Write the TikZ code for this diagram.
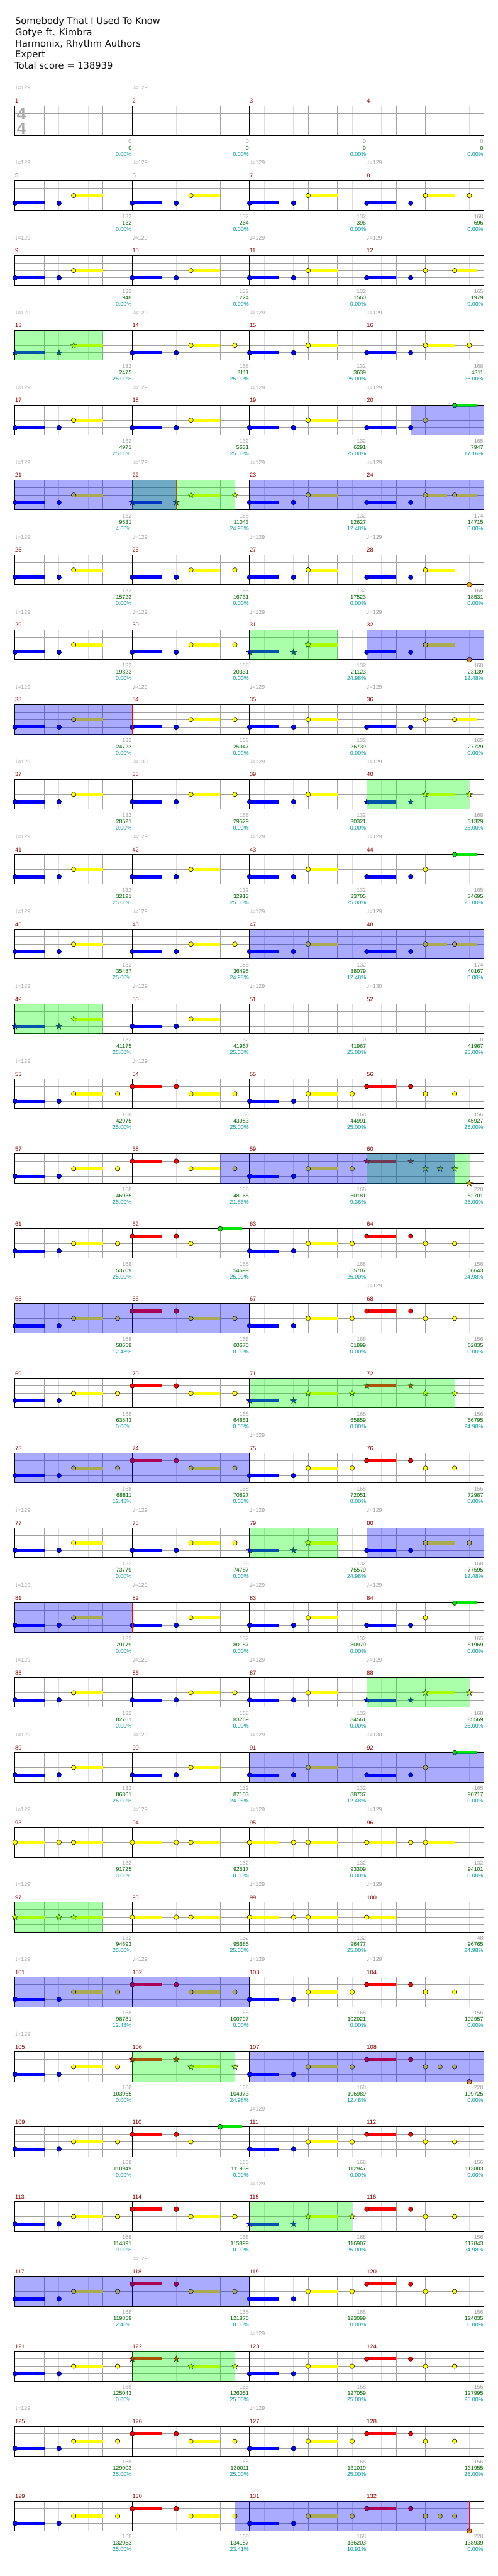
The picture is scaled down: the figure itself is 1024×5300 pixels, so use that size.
\documentclass[tikz,border=0pt]{standalone}
\usepackage{fontspec}
\setmainfont{DejaVu Sans}
\newfontfamily\chartfont{Liberation Sans}
\usetikzlibrary{shapes.geometric}
\definecolor{gridgray}{HTML}{A0A0A0}
\definecolor{gridlight}{HTML}{DCDCDC}
\definecolor{barnum}{HTML}{8B0000}
\definecolor{scoregreen}{HTML}{006400}
\definecolor{pctteal}{HTML}{009999}
\definecolor{odgreen}{HTML}{00FF00}
\definecolor{lane0}{HTML}{00E600}
\definecolor{lane1}{HTML}{FF0000}
\definecolor{lane2}{HTML}{FFFF00}
\definecolor{lane3}{HTML}{0000FF}
\definecolor{lane4}{HTML}{FFA500}

\tikzset{
  eighthline/.style={gridlight, line width=1},
  beatline/.style={gridgray, line width=1},
  barline/.style={black, line width=1},
  laneline/.style={gridgray, line width=1.2},
  staffbox/.style={black, line width=1.3},
  sustain/.style={line width=6.5},
  gem/.style={draw=black, line width=0.7},
  stargem/.style={star, star points=5, star point ratio=2.4, minimum size=13, inner sep=0, draw=black, line width=0.6},
  odzone/.style={fill=odgreen, fill opacity=0.333},
  solozone/.style={fill=blue, fill opacity=0.333},
  header/.style={font={\fontsize{19}{23}\selectfont}, text=black!94, anchor=base west, inner sep=0},
  timesig/.style={font={\chartfont\bfseries\fontsize{34}{34}\selectfont}, text=black!33, inner sep=0},
  tempo/.style={font={\chartfont\fontsize{11.5}{13}\selectfont}, text=gridgray, anchor=base west, inner sep=0},
  barno/.style={font={\chartfont\fontsize{12}{13}\selectfont}, text=barnum, anchor=base west, inner sep=0},
  ptsgray/.style={font={\chartfont\fontsize{11.5}{13}\selectfont}, text=gridgray, anchor=base east, inner sep=0},
  ptsgreen/.style={ptsgray, text=scoregreen},
  ptsteal/.style={ptsgray, text=pctteal}
}

% eighth-note width and measure origin
\newcommand{\ew}{30.156}
\newcommand{\mpos}[1]{%
  \pgfmathtruncatemacro\mrow{(#1-1)/4}%
  \pgfmathtruncatemacro\mcol{#1-1-4*\mrow}%
  \pgfmathsetmacro\mx{31+241.25*\mcol}%
  \pgfmathsetmacro\my{218+154*\mrow}}
\newcommand{\zone}[4]{\mpos{#2}\fill[#1] ({\mx+#3*\ew},\my) rectangle ({\mx+#4*\ew},{\my+61});}

% note patterns: lane/start/end (eighths)
\def\patZ{}
\def\patA{3/0/2,3/3/3,2/4/6}
\def\patC{3/0/2,3/3/3,2/4/6,2/7/7}
\def\patD{1/0/2,1/3/3,2/4/6,2/7/7}
\def\patE{1/0/2,1/3/3,2/4/4,2/6/6}
\def\patF{3/0/2,3/3/3,2/4/4,2/6/7.5}
\def\patG{3/0/2,3/3/3,2/4/4,0/6/7.5}
\def\patH{3/0/2,3/3/3,2/4/5.5,2/6/7.5}
\def\patI{3/0/2,3/3/3,2/4/6,4/7/7}
\def\patK{1/0/2,1/3/3,2/4/4,2/5/5,2/6/6,4/7/7}
\def\patL{1/0/2,1/3/3,2/4/4,0/6/7.5}
\def\patM{2/0/2,2/3/3,2/4/6}
\def\patN{2/0/2}

\begin{document}
\begin{tikzpicture}[x=1pt,y=-1pt]
\useasboundingbox (0,0) rectangle (1024,5300);
\fill[white] (0,0) rectangle (1024,5300);

% header
\node[header] (song) at (31,50) {Somebody That I Used To Know};
\node[header] (artist) at (31,73) {Gotye ft. Kimbra};
\node[header] (charter) at (31,96) {Harmonix, Rhythm Authors};
\node[header] (diff) at (31,119) {Expert};
\node[header] (total) at (30,142) {Total score = 138939};

% staves
\foreach \r in {0,...,32} {
  \pgfmathsetmacro\ty{218+154*\r}
  \foreach \k in {1,3,...,31} \draw[eighthline] ({31+\k*\ew},\ty) -- ++(0,61);
  \foreach \k in {2,4,...,30} \draw[beatline] ({31+\k*\ew},\ty) -- ++(0,61);
  \foreach \l in {1,2,3} \draw[laneline] (31,{\ty+15.25*\l}) -- (996,{\ty+15.25*\l});
  \foreach \k in {8,16,24} \draw[barline] ({31+\k*\ew},\ty) -- ++(0,61);
  \draw[staffbox] (31,\ty) rectangle (996,{\ty+61});
}
\node[timesig] (tsnum) at (44,234.5) {4};
\node[timesig] (tsden) at (44,264) {4};

% notes
\foreach \pat/\st [count=\m] in {
  Z/0,Z/0,Z/0,Z/0, A/0,A/0,A/0,C/0, A/0,A/0,A/0,F/0, A/1,C/0,A/0,C/0,
  A/0,A/0,A/0,G/0, A/0,C/1,A/0,H/0, A/0,C/0,A/0,I/0, A/0,C/0,A/1,I/0,
  A/0,C/0,A/0,F/0, A/0,C/0,A/0,C/1, A/0,A/0,A/0,G/0, A/0,C/0,A/0,H/0,
  A/1,A/0,Z/0,Z/0, C/0,D/0,C/0,E/0, C/0,D/0,C/0,K/1, C/0,L/0,C/0,E/0,
  C/0,D/0,C/0,E/0, C/0,D/0,C/1,E/1, C/0,D/0,C/0,E/0, A/0,C/0,A/1,C/0,
  A/0,A/0,A/0,G/0, A/0,C/0,A/0,C/1, A/0,A/0,A/0,G/0, M/0,M/0,M/0,M/0,
  M/1,M/0,M/0,N/0, C/0,D/0,C/0,E/0, C/0,D/1,C/0,K/0, C/0,L/0,C/0,E/0,
  C/0,D/0,C/1,E/0, C/0,D/0,C/0,E/0, C/0,D/1,C/0,E/0, C/0,D/0,C/0,E/0,
  C/0,D/0,C/0,K/0} {
  \mpos{\m}
  \expandafter\let\expandafter\notes\csname pat\pat\endcsname
  \ifx\notes\empty\else
  \foreach \lane/\from/\upto in \notes {
    \pgfmathsetmacro\ny{\my+15.25*\lane}
    \pgfmathtruncatemacro\hastail{\upto>\from}
    \ifnum\hastail=1 \draw[sustain, color=lane\lane] ({\mx+\from*\ew},\ny) -- ({\mx+\upto*\ew},\ny);\fi
    \ifnum\st=1
      \node[stargem, fill=lane\lane] (gem\m-\lane-\from) at ({\mx+\from*\ew},\ny) {};
    \else
      \draw[gem, fill=lane\lane] ({\mx+\from*\ew},\ny) circle (4.8);
    \fi
  }\fi
}

% solo ends and starts
\foreach \m/\p in {21/11,23/16,33/8,47/16,58/22,65/16,73/16,81/8,91/16,101/16,107/16,117/16,130/23} {
  \mpos{\m}\draw[red, line width=0.8] ({\mx+\p*\ew},\my) -- ++(0,61);
}
\foreach \m in {64,72,100,116} {
  \mpos{\m}\draw[blue!50!black, line width=1] ({\mx+8*\ew},\my) -- ++(0,61);
}

% overdrive phrases
\foreach \m/\a/\b in {13/0/6,22/0/7,31/0/6,40/0/7,49/0/6,60/0/7,71/0/14,79/0/6,88/0/7,97/0/6,106/0/7,115/0/7,122/0/7}
  \zone{odzone}{\m}{\a}{\b};
% solo sections
\foreach \m/\a/\b in {20/3/8,21/0/11,23/0/16,32/0/8,33/0/8,47/0/16,58/6/22,65/0/16,73/0/16,80/0/8,81/0/8,91/0/16,101/0/16,107/0/16,117/0/16,130/7/23}
  \zone{solozone}{\m}{\a}{\b};

% tempo marks
\foreach \m in {1,2,5,6,...,37,39,40,...,51,53,54,68,75,77,78,...,91,93,94,...,97,99,100,...,105,111,115,118,123,125,127} {
  \mpos{\m}\node[tempo] (bpm\m) at (\mx,{\my-33}) {{\normalfont ♩}=129};
}
\foreach \m in {38,52,92} {
  \mpos{\m}\node[tempo] (bpm\m) at (\mx,{\my-33}) {{\normalfont ♩}=130};
}

% measure numbers and scores
\foreach \pts/\tot/\pct [count=\m] in {
  0/0/0.00, 0/0/0.00, 0/0/0.00, 0/0/0.00,
  132/132/0.00, 132/264/0.00, 132/396/0.00, 168/696/0.00,
  132/948/0.00, 132/1224/0.00, 132/1560/0.00, 165/1979/0.00,
  132/2475/25.00, 168/3111/25.00, 132/3639/25.00, 168/4311/25.00,
  132/4971/25.00, 132/5631/25.00, 132/6291/25.00, 165/7947/17.16,
  132/9531/4.66, 168/11043/24.98, 132/12627/12.48, 174/14715/0.00,
  132/15723/0.00, 168/16731/0.00, 132/17523/0.00, 168/18531/0.00,
  132/19323/0.00, 168/20331/0.00, 132/21123/24.98, 168/23139/12.48,
  132/24723/0.00, 168/25947/0.00, 132/26739/0.00, 165/27729/0.00,
  132/28521/0.00, 168/29529/0.00, 132/30321/0.00, 168/31329/25.00,
  132/32121/25.00, 132/32913/25.00, 132/33705/25.00, 165/34695/25.00,
  132/35487/25.00, 168/36495/24.98, 132/38079/12.48, 174/40167/0.00,
  132/41175/25.00, 132/41967/25.00, 0/41967/25.00, 0/41967/25.00,
  168/42975/25.00, 168/43983/25.00, 168/44991/25.00, 156/45927/25.00,
  168/46935/25.00, 168/48165/21.86, 168/50181/9.36, 228/52701/25.00,
  168/53709/25.00, 165/54699/25.00, 168/55707/25.00, 156/56643/24.98,
  168/58659/12.48, 168/60675/0.00, 168/61899/0.00, 156/62835/0.00,
  168/63843/0.00, 168/64851/0.00, 168/65859/0.00, 156/66795/24.98,
  168/68811/12.48, 168/70827/0.00, 168/72051/0.00, 156/72987/0.00,
  132/73779/0.00, 168/74787/0.00, 132/75579/24.98, 168/77595/12.48,
  132/79179/0.00, 132/80187/0.00, 132/80979/0.00, 165/81969/0.00,
  132/82761/0.00, 168/83769/0.00, 132/84561/0.00, 168/85569/25.00,
  132/86361/25.00, 132/87153/24.98, 132/88737/12.48, 165/90717/0.00,
  132/91725/0.00, 132/92517/0.00, 132/93309/0.00, 132/94101/0.00,
  132/94893/25.00, 132/95685/25.00, 132/96477/25.00, 48/96765/24.98,
  168/98781/12.48, 168/100797/0.00, 168/102021/0.00, 156/102957/0.00,
  168/103965/0.00, 168/104973/24.98, 168/106989/12.48, 228/109725/0.00,
  168/110949/0.00, 165/111939/0.00, 168/112947/0.00, 156/113883/0.00,
  168/114891/0.00, 168/115899/0.00, 168/116907/25.00, 156/117843/24.98,
  168/119859/12.48, 168/121875/0.00, 168/123099/0.00, 156/124035/0.00,
  168/125043/0.00, 168/126051/25.00, 168/127059/25.00, 156/127995/25.00,
  168/129003/25.00, 168/130011/25.00, 168/131019/25.00, 156/131955/25.00,
  168/132963/25.00, 168/134187/23.41, 168/136203/10.91, 228/138939/0.00} {
  \mpos{\m}
  \node[barno] (bar\m) at (\mx,{\my-6}) {\m};
  \node[ptsgray] (pts\m) at ({\mx+240},{\my+77}) {\pts};
  \node[ptsgreen] (tot\m) at ({\mx+240},{\my+90}) {\tot};
  \node[ptsteal] (pct\m) at ({\mx+240},{\my+103}) {\pct\%};
}
\end{tikzpicture}
\end{document}
